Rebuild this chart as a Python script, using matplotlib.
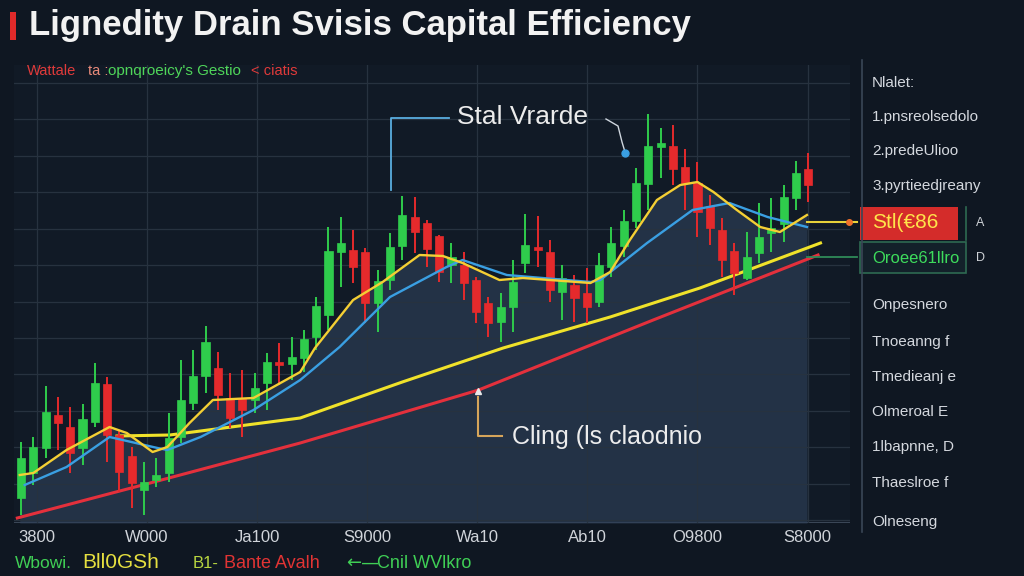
import numpy as np
import matplotlib
matplotlib.use("Agg")
import matplotlib.pyplot as plt
from matplotlib.patches import Rectangle
from matplotlib.lines import Line2D

plt.rcParams['font.family'] = ['Liberation Sans', 'DejaVu Sans']

# candles (open, close, high, low), one per period
opens  = [32, 57, 82, 115, 103, 82, 108, 146, 95, 74, 40, 50, 57, 93, 127, 154, 162, 132, 132, 130,
          147, 168, 166, 172, 193, 215, 278, 280, 278, 227, 250, 284, 313, 307, 294, 265, 265, 250, 227, 208,
          223, 267, 283, 278, 238, 245, 237, 228, 263, 284, 309, 346, 383, 384, 363, 347, 324, 300, 279, 252,
          277, 297, 306, 332, 361]
closes = [72, 83, 118, 107, 77, 111, 147, 95, 58, 47, 48, 55, 92, 130, 154, 188, 135, 112, 120, 142,
          168, 165, 173, 191, 224, 279, 287, 263, 227, 249, 283, 315, 298, 281, 258, 273, 247, 218, 207, 223,
          248, 285, 280, 240, 252, 232, 223, 265, 287, 309, 347, 384, 387, 361, 347, 318, 302, 270, 257, 273,
          293, 302, 333, 357, 345]
highs  = [88, 93, 144, 133, 123, 126, 167, 153, 100, 83, 68, 72, 117, 170, 180, 204, 178, 157, 160, 157,
          177, 187, 193, 200, 233, 303, 313, 300, 282, 260, 297, 334, 333, 310, 295, 287, 278, 253, 233, 237,
          270, 316, 314, 290, 265, 255, 262, 277, 303, 320, 362, 416, 402, 405, 381, 368, 335, 312, 287, 298,
          327, 332, 345, 369, 377]
lows   = [15, 45, 72, 80, 57, 65, 103, 68, 38, 22, 15, 43, 48, 87, 120, 137, 120, 102, 93, 117,
          120, 145, 150, 158, 180, 200, 243, 247, 207, 198, 240, 270, 277, 263, 248, 247, 230, 207, 193, 188,
          198, 257, 263, 228, 210, 208, 207, 223, 253, 273, 302, 320, 352, 345, 320, 293, 285, 253, 235, 250,
          267, 278, 288, 320, 328]

# fast (yellow) and slow (blue) moving averages, x in candle index
fast_ma_x = [-0.1, 1.0, 3.7, 7.2, 8.6, 10.7, 11.9, 13.7, 15.6, 18.9, 22.7, 23.9, 27.0, 29.4, 32.4,
             34.3, 35.9, 38.9, 40.8, 46.3, 47.9, 49.5, 51.7, 53.6, 55.0, 56.3, 58.2, 60.1, 61.7, 63.9]
fast_ma_y = [55, 57, 80, 103, 97, 78, 83, 107, 130, 132, 158, 182, 230, 248, 275,
             274, 267, 250, 252, 247, 258, 290, 330, 345, 348, 338, 320, 303, 298, 315]
slow_ma_x = [0.3, 3.7, 7.2, 11.1, 11.9, 14.6, 18.9, 22.7, 25.9, 30.0, 34.6, 35.9, 39.5, 46.3,
             47.1, 50.9, 54.6, 57.6, 60.7, 63.9]
slow_ma_y = [45, 63, 93, 82, 80, 93, 120, 150, 183, 233, 263, 270, 255, 248,
             250, 287, 320, 327, 313, 303]

# long trend lines
trend_yel_x = [7.8, 12.1, 22.7, 31.0, 39.2, 47.9, 55.2, 65.0]
trend_yel_y = [94, 95, 112, 148, 182, 213, 242, 287]
trend_red_x = [-0.3, 10.5, 22.7, 37.2, 51.4, 64.8]
trend_red_y = [12, 47, 87, 140, 210, 275]

x_labels = ["3800", "W000", "Ja100", "S9000", "Wa10", "Ab10", "O9800", "S8000"]
side_labels = ["Nlalet:", "1.pnsreolsedolo", "2.predeUlioo", "3.pyrtieedjreany", None, None,
               "Onpesnero", "Tnoeanng f", "Tmedieanj e", "Olmeroal E", "1lbapnne, D",
               "Thaeslroe f", "Olneseng"]
side_y = [83, 117, 151, 186, 223, 258, 305, 342, 377, 412, 447, 483, 522]
last_price_tag = "Stl(€86"
prev_price_tag = "Oroee61llro"

BG = '#0f1722'
GREEN = '#2fcc4c'
RED = '#e52a2c'

W, H = 1024, 576
fig = plt.figure(figsize=(W / 100, H / 100), dpi=100, facecolor=BG)

def fx(px):
    return px / W

def fy(py):
    return 1 - py / H

ax = fig.add_axes([fx(14), fy(523), (850 - 14) / W, (523 - 65) / H])
ax.set_facecolor('#111a26')
ax.set_xlim(-0.57, 67.4)
ax.set_ylim(7, 465)
for s in ax.spines.values():
    s.set_visible(False)
ax.axhline(7, color='#3a4656', lw=1.5, zorder=1)

ax.set_yticks(np.linspace(10, 447, 13))
ax.set_yticklabels([])
ax.set_xticks([1.3 + 8.95 * k for k in range(len(x_labels))])
ax.set_xticklabels(x_labels)
ax.tick_params(length=0, pad=5, colors='#d0d4da', labelsize=12)
ax.grid(True, color='#27323f', lw=0.9, zorder=0)

# shaded area under fast average
ax.fill_between(fast_ma_x, fast_ma_y, 7, color='#2e3f58', alpha=0.65, lw=0, zorder=1)

ax.plot(trend_red_x, trend_red_y, color='#e4303c', lw=2.2, zorder=2)
ax.plot(trend_yel_x, trend_yel_y, color='#f0e22a', lw=2.2, zorder=2)

for i in range(len(opens)):
    o, c, h, l = opens[i], closes[i], highs[i], lows[i]
    col = GREEN if c >= o else RED
    ax.vlines(i, l, h, color=col, lw=1.4, zorder=3)
    ax.add_patch(Rectangle((i - 0.33, min(o, c)), 0.66, max(abs(c - o), 2.5),
                           facecolor=col, edgecolor=col, lw=0.5, zorder=4))

ax.plot(slow_ma_x, slow_ma_y, color='#3a9fe2', lw=1.7, zorder=5)
ax.plot(fast_ma_x, fast_ma_y, color='#f4cf34', lw=1.7, zorder=5)

# connectors to price tags
ax.plot([fast_ma_x[-1], 68.0], [308, 308], color='#e8d23a', lw=1.5, clip_on=False, zorder=5)
ax.plot([67.3], [308], 'o', color='#f0702a', ms=4, clip_on=False, zorder=6)
ax.plot([slow_ma_x[-1], 68.0], [273, 273], color='#2f8a58', lw=1.3, clip_on=False, zorder=5)

# title and subtitle
fig.add_artist(Rectangle((fx(10), fy(40)), 6 / W, 28 / H, transform=fig.transFigure,
                         facecolor='#e02a2a', edgecolor='none'))
fig.text(fx(29), fy(25), "Lignedity Drain Svisis Capital Efficiency", color='#f2f2f2',
         fontsize=25, fontweight='bold', va='center', ha='left')
fig.text(fx(27), fy(71), "Wattale", color='#e03a3a', fontsize=10.5, va='center')
fig.text(fx(88), fy(71), "ta :", color='#e88a7a', fontsize=10.5, va='center')
fig.text(fx(108), fy(71), "opnqroeicy's Gestio", color='#4fd65a', fontsize=11, va='center')
fig.text(fx(251), fy(71), "< ciatis", color='#e03a3a', fontsize=10.5, va='center')

# annotation: upper
fig.add_artist(Line2D([fx(449), fx(391), fx(391)], [fy(118), fy(118), fy(190)],
                      color='#5aaee0', lw=1.3))
fig.text(fx(457), fy(117), "Stal Vrarde", color='#ececec', fontsize=19, va='center')
fig.add_artist(Line2D([fx(606), fx(618), fx(622), fx(625)], [fy(119), fy(126), fy(142), fy(152)],
                      color='#cfd6de', lw=1.0))
fig.add_artist(Line2D([fx(625)], [fy(153)], marker='o', color='#3a9fe2', ms=5))

# annotation: lower
fig.add_artist(Line2D([fx(502), fx(478), fx(478)], [fy(436), fy(436), fy(397)],
                      color='#d6a55a', lw=1.5))
fig.add_artist(Line2D([fx(478)], [fy(391)], marker='^', color='#e8e8e8', ms=5))
fig.text(fx(512), fy(437), "Cling (ls claodnio", color='#ececec', fontsize=18, va='center')

# right side panel
fig.add_artist(Line2D([fx(862), fx(862)], [fy(60), fy(532)], color='#3a4656', lw=1.2))
for lab, yy in zip(side_labels, side_y):
    if lab is not None:
        fig.text(fx(872), fy(yy), lab, color='#d4d8de', fontsize=11, va='center')
fig.add_artist(Rectangle((fx(860), fy(240)), 98 / W, 33 / H, transform=fig.transFigure,
                         facecolor='#d42c2a', edgecolor='none'))
fig.text(fx(872), fy(223), last_price_tag, color='#ffe44a', fontsize=15, va='center')
fig.add_artist(Rectangle((fx(860), fy(273)), 106 / W, 31 / H, transform=fig.transFigure,
                         facecolor='#13212a', edgecolor='#2e6a52', lw=1.2))
fig.add_artist(Line2D([fx(966), fx(966)], [fy(207), fy(240)], color='#2e6a52', lw=1.2))
fig.text(fx(872), fy(258), prev_price_tag, color='#3ddc5c', fontsize=12, va='center')
fig.text(fx(976), fy(223), "A", color='#cfd3d8', fontsize=9, va='center')
fig.text(fx(976), fy(258), "D", color='#cfd3d8', fontsize=9, va='center')

# bottom legend
fig.text(fx(15), fy(563), "Wbowi.", color='#3fcf55', fontsize=12.5, va='center')
fig.text(fx(82), fy(563), "Bll0GSh", color='#e6e040', fontsize=15, va='center')
fig.text(fx(193), fy(563), "B1-", color='#b8d640', fontsize=12, va='center')
fig.text(fx(224), fy(563), "Bante Avalh", color='#e23434', fontsize=13, va='center')
fig.text(fx(346), fy(563), "\u2190\u2014", color='#3fcf55', fontsize=13, va='center',
         family=['DejaVu Sans'])
fig.text(fx(377), fy(563), "Cnil WVlkro", color='#3fcf55', fontsize=13, va='center')

fig.savefig("out.png", dpi=100, facecolor=BG)
